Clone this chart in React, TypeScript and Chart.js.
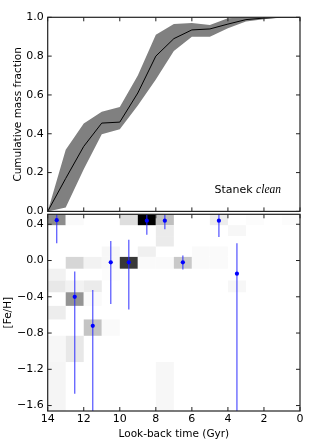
import React, { useEffect, useRef } from 'react';
import { Chart, registerables } from 'chart.js';
Chart.register(...registerables);

// ---- Top panel: cumulative mass fraction ----
const ageGrid = [14, 13, 12, 11, 10, 9, 8, 7, 6, 5, 4, 3, 2, 1, 0];
const cumMass = [0, 0.17, 0.335, 0.455, 0.46, 0.61, 0.8, 0.89, 0.935, 0.94, 0.965, 0.988, 0.996, 1, 1];
const cumUpper = [0, 0.318, 0.453, 0.513, 0.538, 0.7, 0.91, 0.965, 0.97, 0.96, 0.995, 1, 1, 1, 1];
const cumLower = [0, 0.02, 0.217, 0.398, 0.423, 0.545, 0.68, 0.826, 0.9, 0.9, 0.944, 0.978, 0.99, 1, 1];

// ---- Tick labels ----
const ageTicks = [14, 12, 10, 8, 6, 4, 2, 0];
const massTicks = [0, 0.2, 0.4, 0.6, 0.8, 1.0];
const fehTicks = [0.4, 0.0, -0.4, -0.8, -1.2, -1.6];

// ---- Bottom panel: age-metallicity weights ----
const ageBinEdges = [14, 13, 12, 11, 10, 9, 8, 7, 6, 5, 4, 3, 2, 1, 0];
const fehBinEdges = [0.51, 0.39, 0.27, 0.155, 0.04, -0.09, -0.22, -0.35, -0.5, -0.65, -0.83, -1.12, -1.66];
// rows follow fehBinEdges (top to bottom), columns follow ageBinEdges (14-13 ... 1-0)
const sfhWeights = [
  [0.45, 0.02, 0, 0, 0.13, 1.0, 0.25, 0, 0, 0.07, 0, 0.01, 0, 0.01],
  [0, 0, 0, 0, 0, 0, 0.08, 0, 0, 0, 0.03, 0, 0, 0],
  [0, 0, 0, 0, 0, 0, 0.08, 0, 0, 0, 0, 0, 0, 0],
  [0, 0, 0, 0.03, 0, 0.06, 0, 0, 0.02, 0.02, 0, 0, 0, 0],
  [0, 0.16, 0.05, 0.03, 0.78, 0.02, 0.02, 0.21, 0.02, 0.02, 0, 0, 0, 0],
  [0.05, 0, 0, 0.01, 0, 0, 0, 0, 0, 0, 0, 0, 0, 0],
  [0.09, 0.05, 0.08, 0, 0, 0, 0, 0, 0, 0, 0.03, 0, 0, 0],
  [0, 0.42, 0.02, 0, 0, 0, 0, 0, 0, 0, 0, 0, 0, 0],
  [0.07, 0, 0, 0, 0, 0, 0, 0, 0, 0, 0, 0, 0, 0],
  [0, 0, 0.23, 0.02, 0, 0, 0, 0, 0, 0, 0, 0, 0, 0],
  [0.03, 0.09, 0, 0, 0, 0, 0, 0, 0, 0, 0, 0, 0, 0],
  [0.04, 0, 0, 0, 0, 0, 0.03, 0, 0, 0, 0, 0, 0, 0],
];

// ---- Bottom panel: mean [Fe/H] per age bin with error bars ----
const errAge = [13.5, 12.5, 11.5, 10.5, 9.5, 8.5, 7.5, 6.5, 4.5, 3.5];
const errFeH = [0.445, -0.4, -0.72, -0.02, -0.02, 0.44, 0.44, -0.02, 0.44, -0.145];
const errLow = [0.19, -1.47, -1.8, -0.48, -0.54, 0.285, 0.345, -0.1, 0.26, -1.8];
const errHigh = [0.6, -0.12, -0.325, 0.215, 0.23, 0.6, 0.6, 0.055, 0.6, 0.19];

const FONT = 'DejaVu Sans';

const fmt = (v: any) => {
  const n = Number(v);
  const s = Math.abs(n) < 1e-9 ? '0.0' : n.toFixed(1);
  return s.replace('-', '\u2212');
};

const frameTicks = (xId: string, yId: string, xT: number[], yT: number[]) => ({
  id: 'frameTicks',
  afterDraw(chart: any) {
    const { ctx, chartArea: a } = chart;
    const xs = chart.scales[xId];
    const ys = chart.scales[yId];
    const L = 4;
    ctx.save();
    ctx.strokeStyle = '#222';
    ctx.lineWidth = 1;
    ctx.beginPath();
    xT.forEach((v) => {
      const p = xs.getPixelForValue(v);
      ctx.moveTo(p, a.top);
      ctx.lineTo(p, a.top + L);
      ctx.moveTo(p, a.bottom);
      ctx.lineTo(p, a.bottom - L);
    });
    yT.forEach((v) => {
      const p = ys.getPixelForValue(v);
      ctx.moveTo(a.left, p);
      ctx.lineTo(a.left + L, p);
      ctx.moveTo(a.right, p);
      ctx.lineTo(a.right - L, p);
    });
    ctx.stroke();
    ctx.lineWidth = 1.2;
    ctx.strokeRect(a.left, a.top, a.right - a.left, a.bottom - a.top);
    ctx.restore();
  },
});

const labelPlugin = {
  id: 'stanekLabel',
  afterDraw(chart: any) {
    const { ctx, chartArea: a } = chart;
    ctx.save();
    ctx.fillStyle = '#000';
    ctx.textBaseline = 'alphabetic';
    ctx.textAlign = 'right';
    const xEnd = a.right - 19;
    const yb = a.bottom - 18.5;
    ctx.font = 'italic 11.5px "Liberation Serif"';
    const w = ctx.measureText('clean').width;
    ctx.fillText('clean', xEnd, yb);
    ctx.font = `11px "${FONT}"`;
    ctx.fillText('Stanek', xEnd - w - 3.5, yb);
    ctx.restore();
  },
};

const heatPlugin = {
  id: 'heatmap',
  beforeDatasetsDraw(chart: any) {
    const { ctx, chartArea: a } = chart;
    const xs = chart.scales.x;
    const ys = chart.scales.y;
    ctx.save();
    ctx.beginPath();
    ctx.rect(a.left, a.top, a.right - a.left, a.bottom - a.top);
    ctx.clip();
    sfhWeights.forEach((row, r) => {
      const y1 = ys.getPixelForValue(fehBinEdges[r]);
      const y2 = ys.getPixelForValue(fehBinEdges[r + 1]);
      row.forEach((w, c) => {
        if (w <= 0) return;
        const x1 = xs.getPixelForValue(ageBinEdges[c]);
        const x2 = xs.getPixelForValue(ageBinEdges[c + 1]);
        const g = Math.round(255 * (1 - w));
        ctx.fillStyle = `rgb(${g},${g},${g})`;
        ctx.fillRect(Math.min(x1, x2), Math.min(y1, y2), Math.abs(x2 - x1), Math.abs(y2 - y1));
      });
    });
    ctx.strokeStyle = 'rgba(40,40,255,0.75)';
    ctx.lineWidth = 1.3;
    ctx.beginPath();
    errAge.forEach((age, i) => {
      const x = xs.getPixelForValue(age);
      ctx.moveTo(x, ys.getPixelForValue(errLow[i]));
      ctx.lineTo(x, ys.getPixelForValue(errHigh[i]));
    });
    ctx.stroke();
    ctx.restore();
  },
};

export default function App() {
  const topRef = useRef<HTMLCanvasElement>(null);
  const botRef = useRef<HTMLCanvasElement>(null);

  useEffect(() => {
    const tickFont = { family: FONT, size: 11 };
    const titleFont = { family: FONT, size: 10.5 };

    const top = new Chart(topRef.current as HTMLCanvasElement, {
      type: 'line',
      data: {
        datasets: [
          {
            label: 'cdf',
            data: ageGrid.map((x, i) => ({ x, y: cumMass[i] })),
            borderColor: '#000',
            borderWidth: 1,
            pointRadius: 0,
            fill: false,
            order: 0,
          },
          {
            label: 'lower',
            data: ageGrid.map((x, i) => ({ x, y: cumLower[i] })),
            borderColor: 'rgba(0,0,0,0)',
            borderWidth: 0,
            pointRadius: 0,
            fill: false,
            order: 2,
          },
          {
            label: 'upper',
            data: ageGrid.map((x, i) => ({ x, y: cumUpper[i] })),
            borderColor: 'rgba(0,0,0,0)',
            borderWidth: 0,
            pointRadius: 0,
            fill: '-1',
            backgroundColor: 'rgb(128,128,128)',
            order: 1,
          },
        ],
      },
      options: {
        responsive: false,
        animation: false,
        layout: { padding: { left: 0, right: 16, top: 17.3, bottom: 7.7 } },
        plugins: { legend: { display: false }, tooltip: { enabled: false } },
        scales: {
          x: {
            type: 'linear',
            min: 0,
            max: 14,
            reverse: true,
            ticks: { display: false },
            grid: { display: false },
            border: { display: false },
            afterFit: (s: any) => { s.height = 0; },
          },
          y: {
            type: 'linear',
            min: 0,
            max: 1,
            afterBuildTicks: (s: any) => { s.ticks = massTicks.map((v) => ({ value: v })); },
            ticks: { font: tickFont, color: '#000', padding: 4, callback: fmt },
            grid: { display: false, drawTicks: false },
            border: { display: false },
            title: {
              display: true,
              text: 'Cumulative mass fraction',
              font: titleFont,
              color: '#000',
              padding: { top: 11.5, bottom: 0 },
            },
            afterFit: (s: any) => { s.width = 47.7; },
          },
        },
      },
      plugins: [frameTicks('x', 'y', ageTicks, massTicks), labelPlugin],
    } as any);

    const bot = new Chart(botRef.current as HTMLCanvasElement, {
      type: 'scatter',
      data: {
        datasets: [
          {
            label: 'mean',
            data: errAge.map((x, i) => ({ x, y: errFeH[i] })),
            backgroundColor: '#0000ff',
            borderColor: '#0000ff',
            borderWidth: 0,
            pointRadius: 2.1,
          },
        ],
      },
      options: {
        responsive: false,
        animation: false,
        layout: { padding: { left: 0, right: 16, top: 14.3, bottom: 0 } },
        plugins: { legend: { display: false }, tooltip: { enabled: false } },
        scales: {
          x: {
            type: 'linear',
            min: 0,
            max: 14,
            reverse: true,
            afterBuildTicks: (s: any) => { s.ticks = ageTicks.map((v) => ({ value: v })); },
            ticks: { font: tickFont, color: '#000', padding: 2, callback: (v: any) => String(v) },
            grid: { display: false, drawTicks: false },
            border: { display: false },
            title: {
              display: true,
              text: 'Look-back time (Gyr)',
              font: titleFont,
              color: '#000',
              padding: { top: 0, bottom: 2.5 },
            },
            afterFit: (s: any) => { s.height = 32; },
          },
          y: {
            type: 'linear',
            min: -1.66,
            max: 0.51,
            afterBuildTicks: (s: any) => { s.ticks = fehTicks.map((v) => ({ value: v })); },
            ticks: { font: tickFont, color: '#000', padding: 4, callback: fmt },
            grid: { display: false, drawTicks: false },
            border: { display: false },
            title: {
              display: true,
              text: '[Fe/H]',
              font: titleFont,
              color: '#000',
              padding: { top: 1.5, bottom: 0 },
            },
            afterFit: (s: any) => { s.width = 47.7; },
          },
        },
      },
      plugins: [heatPlugin, frameTicks('x', 'y', ageTicks, fehTicks)],
    } as any);

    return () => {
      top.destroy();
      bot.destroy();
    };
  }, []);

  return (
    <div style={{ position: 'absolute', left: 0, top: 0, width: 316, height: 443, background: '#fff' }}>
      <canvas
        ref={botRef}
        width={316}
        height={243}
        style={{ position: 'absolute', left: 0, top: 200, width: 316, height: 243, zIndex: 1 }}
      />
      <canvas
        ref={topRef}
        width={316}
        height={222}
        style={{ position: 'absolute', left: 0, top: 0, width: 316, height: 222, zIndex: 2 }}
      />
    </div>
  );
}
